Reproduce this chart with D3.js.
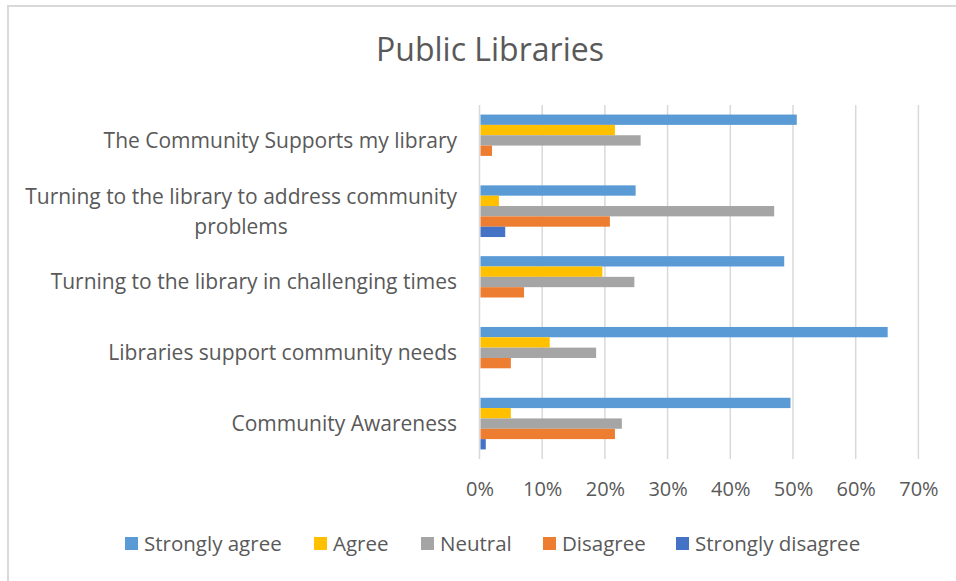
<!DOCTYPE html>
<html>
<head>
<meta charset="utf-8">
<script src="https://cdn.jsdelivr.net/npm/d3@7"></script>
<style>
  html, body { margin: 0; padding: 0; background: #fff; }
  svg { display: block; }
  text { font-family: "Open Sans", sans-serif; fill: #595959; }
</style>
</head>
<body>
<svg id="chart" width="956" height="581"></svg>
<script>
// Survey statements, top to bottom
const categories = [
  "The Community Supports my library",
  "Turning to the library to address community problems",
  "Turning to the library in challenging times",
  "Libraries support community needs",
  "Community Awareness"
];
// Response shares (fraction of respondents), one array per answer, same order as categories
const stronglyAgree    = [0.506, 0.249, 0.486, 0.651, 0.496];
const agree            = [0.216, 0.031, 0.196, 0.112, 0.050];
const neutral          = [0.257, 0.470, 0.247, 0.186, 0.227];
const disagree         = [0.020, 0.208, 0.071, 0.050, 0.216];
const stronglyDisagree = [0.000, 0.041, 0.000, 0.000, 0.010];

const seriesNames  = ["Strongly agree", "Agree", "Neutral", "Disagree", "Strongly disagree"];
const seriesValues = [stronglyAgree, agree, neutral, disagree, stronglyDisagree];
const seriesColors = ["#5b9bd5", "#ffc000", "#a5a5a5", "#ed7d31", "#4472c4"];
const tickValues   = [0, 0.1, 0.2, 0.3, 0.4, 0.5, 0.6, 0.7];

const svg = d3.select("#chart");

// chart frame
svg.append("rect")
  .attr("x", 8).attr("y", 6)
  .attr("width", 960).attr("height", 590)
  .attr("fill", "#fff")
  .attr("stroke", "#d9d9d9")
  .attr("stroke-width", 2);

const plot = { left: 479.5, right: 918.4, top: 105, bottom: 459 };

const x = d3.scaleLinear().domain([0, 0.7]).range([plot.left, plot.right]);
const y = d3.scaleBand().domain(categories)
  .range([plot.top, plot.bottom])
  .paddingInner(0.27).paddingOuter(0.135);
const ySub = d3.scaleBand().domain(seriesNames).range([0, y.bandwidth()]);

// title
svg.append("text")
  .attr("x", 490).attr("y", 61)
  .attr("text-anchor", "middle")
  .style("font-size", "32px")
  .text("Public Libraries");

// vertical gridlines
svg.append("g").selectAll("line")
  .data(tickValues)
  .join("line")
  .attr("x1", d => x(d)).attr("x2", d => x(d))
  .attr("y1", plot.top).attr("y2", plot.bottom)
  .attr("stroke", "#d9d9d9")
  .attr("stroke-width", 1.5);

// x axis labels
const xAxis = d3.axisBottom(x)
  .tickValues(tickValues)
  .tickFormat(d3.format(".0%"))
  .tickSize(0)
  .tickPadding(0);
const gx = svg.append("g")
  .attr("transform", `translate(0,${plot.bottom + 23})`)
  .call(xAxis);
gx.select(".domain").remove();
gx.selectAll("text")
  .attr("dy", "0.71em")
  .style("font-size", "20px")
  .style("font-family", "'Open Sans', sans-serif")
  .attr("fill", "#595959");

// bars
const groups = svg.append("g").selectAll("g")
  .data(categories)
  .join("g")
  .attr("transform", d => `translate(0,${y(d)})`);

groups.selectAll("rect")
  .data((c, i) => seriesNames.map((s, k) => ({ s, v: seriesValues[k][i], color: seriesColors[k] })))
  .join("rect")
  .filter(d => d.v > 0)
  .attr("x", x(0) + 1)
  .attr("y", d => ySub(d.s))
  .attr("width", d => x(d.v) - x(0) - 1)
  .attr("height", ySub.bandwidth())
  .attr("fill", d => d.color);

// category labels; the long one wraps onto two centred lines
const labelLines = {
  "Turning to the library to address community problems":
    ["Turning to the library to address community", "problems"]
};
const labelRight = 457;
categories.forEach(c => {
  const lines = labelLines[c] || [c];
  const cy = y(c) + y.bandwidth() / 2;
  const lh = 30;
  const t = svg.append("text")
    .style("font-size", "21px")
    .attr("text-anchor", lines.length > 1 ? "middle" : "end");
  lines.forEach((ln, i) => {
    t.append("tspan")
      .attr("y", cy + (i - (lines.length - 1) / 2) * lh)
      .attr("dy", "0.35em")
      .text(ln);
  });
  if (lines.length > 1) {
    const w = d3.max(t.selectAll("tspan").nodes(), n => n.getComputedTextLength());
    t.selectAll("tspan").attr("x", labelRight - w / 2);
  } else {
    t.selectAll("tspan").attr("x", labelRight);
  }
});

// legend
const legendX = [125, 314, 421, 543, 676];
const legend = svg.append("g").selectAll("g")
  .data(seriesNames)
  .join("g")
  .attr("transform", (d, i) => `translate(${legendX[i]},543.5)`);
legend.append("rect")
  .attr("x", 0).attr("y", -6.5)
  .attr("width", 13).attr("height", 13)
  .attr("fill", (d, i) => seriesColors[i]);
legend.append("text")
  .attr("x", 19).attr("y", 0).attr("dy", "0.35em")
  .style("font-size", "20.5px")
  .text(d => d);
</script>
</body>
</html>
